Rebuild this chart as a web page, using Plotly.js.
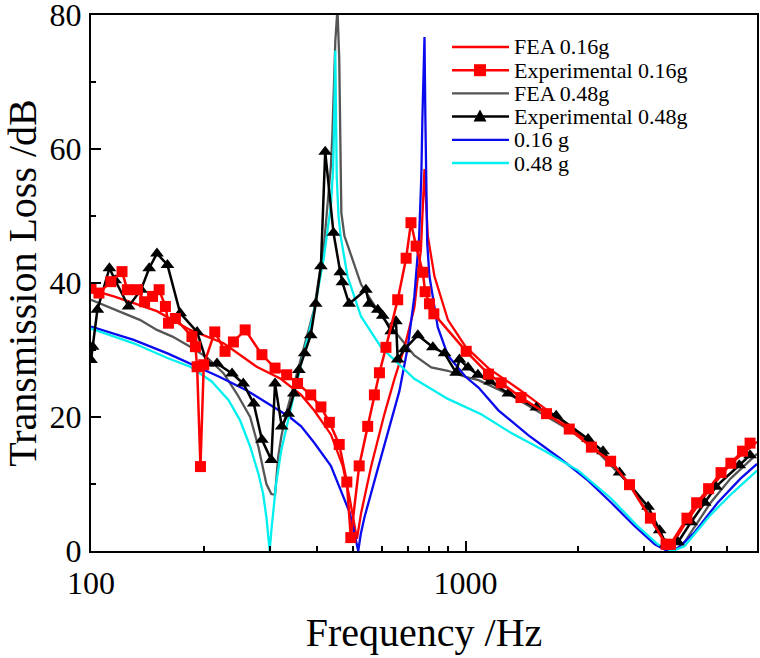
<!DOCTYPE html>
<html>
<head>
<meta charset="utf-8">
<script src="https://cdn.plot.ly/plotly-3.0.1.min.js"></script>
<style>
  html, body { margin: 0; padding: 0; background: #ffffff; }
  #chart { width: 760px; height: 658px; }
</style>
</head>
<body>
<div id="chart"></div>
<script>
// ---- Transmission loss data (frequency in Hz, TL in dB) ----

// FEA, 0.16 g
const feaLightF  = [100, 115, 130, 150, 184, 226, 277, 321, 364, 394, 437, 470, 490, 505, 513, 526, 560, 607, 646, 687, 730, 760, 770, 777, 783, 793, 826, 897, 1000, 1150, 1400, 1650, 1900, 2200, 2450, 2750, 3100, 3400, 3550, 3900, 4500, 5100, 6000];
const feaLightTL = [39, 38, 37, 35.8, 33, 31, 27.5, 25.7, 23.3, 21, 17.4, 12.7, 8, 3.8, 1.8, 5.6, 12.7, 20.4, 25.7, 30.4, 36.3, 45, 51, 57, 53, 47, 41, 34.5, 30.5, 27.3, 24, 21, 18.5, 15.5, 13.3, 9.8, 5, 1.3, 0.8, 4.5, 9.3, 13, 16.3];

// Experimental, 0.16 g
const expLightF  = [100, 105, 113, 121, 125, 133, 139, 146, 152, 158, 161, 168, 186, 190, 192, 196, 200, 214, 228, 240, 258, 286, 310, 333, 356, 386, 411, 433, 460, 482, 494, 520, 548, 571, 589, 613, 659, 694, 715, 738, 769, 780, 801, 823, 1004, 1151, 1245, 1406, 1645, 1892, 2168, 2440, 2740, 3116, 3430, 3524, 3900, 4140, 4456, 4810, 5110, 5490, 5750];
const expLightTL = [39.2, 38.5, 40.2, 41.7, 39, 39, 37.2, 38, 39, 36.5, 34, 34.7, 32, 30.5, 27.5, 12.6, 27.8, 32.7, 29.8, 31.2, 33, 29.3, 27.3, 26.3, 25, 23.3, 21.5, 19.2, 15.9, 10.3, 2, 12.7, 18.6, 23.3, 26.6, 30.4, 37.5, 43.7, 49, 45.5, 41.6, 38.7, 36.9, 35.4, 29.8, 26.4, 25.1, 22.9, 20.5, 18.2, 15.5, 13.4, 9.9, 4.9, 1, 1, 4.9, 7.2, 9.3, 11.7, 13.1, 14.9, 16.1];

// FEA, 0.48 g
const feaHeavyF  = [100, 110, 122, 135, 150, 165, 184, 205, 226, 245, 266, 280, 294, 303, 310, 316, 322, 330, 345, 364, 394, 419, 437, 441, 443, 449, 455, 460, 466, 475, 484, 526, 595, 660, 730, 810, 897, 1000, 1083, 1325, 1632, 1876, 2165, 2710, 3200, 3460, 3610, 3840, 4510, 5100, 6000];
const feaHeavyTL = [37.5, 36.5, 35.5, 34.5, 33, 32, 30.5, 28.8, 26.5, 23.5, 20, 15.5, 10, 8.5, 8.4, 14, 17, 20, 24, 29, 36, 45.7, 57.5, 62, 66, 76, 81, 73.5, 50.5, 47, 45.7, 39.8, 35.1, 32.2, 29.2, 27.4, 26.9, 26, 25.5, 23.2, 20.2, 18.2, 15.8, 10.2, 4.3, 0.7, 0.1, 1.3, 7.2, 10.8, 14.5];

// Experimental, 0.48 g
const expHeavyF  = [100, 101, 104, 112, 116, 126, 136, 143, 150, 160, 173, 192, 204, 217, 238, 255, 272, 286, 303, 310, 323, 336, 348, 359, 372, 386, 398, 411, 422, 444, 463, 469, 489, 542, 553, 583, 601, 633, 652, 659, 687, 746, 818, 879, 944, 963, 1015, 1079, 1163, 1301, 1546, 1746, 2124, 2328, 2577, 3071, 3298, 3430, 3690, 4000, 4350, 4660, 5380, 5750];
const expHeavyTL = [28.5, 30.5, 36, 42.2, 40.4, 36.5, 39, 42.2, 44.4, 42.7, 35.5, 32.7, 28, 28, 26.5, 25, 22, 16.6, 13.6, 25, 18.6, 20.5, 23.5, 27, 29.5, 32.2, 36.9, 42.5, 59.6, 47.5, 41.6, 40.1, 36.9, 39, 36.9, 36, 35.1, 32.8, 34.3, 28.6, 30.1, 32.2, 30.4, 29.5, 26.6, 28.6, 27.4, 26.3, 25.3, 23.5, 21.4, 20.2, 16.7, 14.9, 11.7, 6.6, 3.1, 1, 1.3, 4.3, 7.2, 9.6, 12.8, 14.3];

// Analytical model, 0.16 g
const modelLightF  = [100, 130, 160, 184, 220, 260, 300, 339, 364, 394, 437, 474, 490, 500, 510, 517, 525, 537, 582, 632, 666, 701, 730, 752, 762, 767, 772, 777, 781, 785, 790, 801, 843, 897, 1000, 1083, 1224, 1470, 1800, 2125, 2450, 2830, 3200, 3460, 3690, 4090, 4710, 5420, 6000];
const modelLightTL = [33.5, 31.5, 29.5, 28, 26, 24, 21.8, 20, 18.6, 16.2, 12.7, 8, 5.8, 3.8, 1.8, 0, 2.5, 5, 12.1, 19.2, 23.9, 30.4, 38, 47, 56, 64.6, 71, 76.7, 65, 52.8, 46, 41, 33.4, 29.2, 26, 24.4, 21, 17.3, 13.7, 10.5, 7.2, 3.7, 1, 0, 0.4, 2.8, 7.2, 10.8, 13];

// Analytical model, 0.48 g
const modelHeavyF  = [100, 130, 160, 184, 210, 233, 250, 266, 280, 288, 294, 298, 300, 303, 307, 312, 322, 339, 364, 394, 419, 437, 443, 446, 449, 451, 453, 458, 464, 484, 526, 595, 730, 897, 1101, 1325, 1632, 2000, 2450, 2880, 3260, 3560, 3840, 4510, 5100, 6000];
const modelHeavyTL = [33.2, 31, 28.8, 27.5, 25.3, 22.5, 19.5, 15.6, 11.5, 8.6, 5, 2, 0, 3, 6.5, 10, 15, 20.4, 28, 35.7, 44, 51.6, 57, 64.6, 74.7, 65, 55.8, 50, 47, 41, 35, 30.4, 25.7, 22.7, 20.4, 17.6, 14.9, 12, 7.8, 3.7, 1, 0, 0.7, 5.4, 8.4, 12];

// Legend / series labels, in legend order
const seriesNames = ['FEA 0.16g', 'Experimental 0.16g', 'FEA 0.48g', 'Experimental 0.48g', '0.16 g', '0.48 g'];

// Axis ticks
const xMajorTicks = [100, 1000];
const xMajorText  = ['100', '1000'];
const xMinorTicks = [200, 300, 400, 500, 600, 700, 800, 900, 2000, 3000, 4000, 5000];
const yMajorTicks = [0, 20, 40, 60, 80];
const yMinorTicks = [10, 30, 50, 70];

// ---- Styling ----
const FONT = 'Liberation Serif, Times New Roman, serif';
const W = 760, H = 658;
const M = { l: 91, r: 3, t: 15, b: 107 };
const PW = W - M.l - M.r, PH = H - M.t - M.b;

const styles = [
  { color: '#ff0000', width: 2.3, marker: null },
  { color: '#ff0000', width: 2.5, marker: 'square' },
  { color: '#555555', width: 2.3, marker: null },
  { color: '#000000', width: 2.5, marker: 'triangle-up' },
  { color: '#0a0aee', width: 2.3, marker: null },
  { color: '#00f0f0', width: 2.3, marker: null }
];
const seriesData = [
  [feaLightF, feaLightTL],
  [expLightF, expLightTL],
  [feaHeavyF, feaHeavyTL],
  [expHeavyF, expHeavyTL],
  [modelLightF, modelLightTL],
  [modelHeavyF, modelHeavyTL]
];

function makeTrace(i) {
  const s = styles[i];
  const t = {
    type: 'scatter',
    x: seriesData[i][0],
    y: seriesData[i][1],
    name: seriesNames[i],
    mode: s.marker ? 'lines+markers' : 'lines',
    line: { color: s.color, width: s.width },
    showlegend: false,
    cliponaxis: true
  };
  if (s.marker) {
    t.marker = { symbol: s.marker, size: s.marker === 'square' ? 11 : 12, color: s.color, line: { width: 0 } };
  }
  return t;
}

// drawing order: model and FEA curves underneath, experiments on top
const drawOrder = [2, 0, 4, 5, 3, 1];
const traces = drawOrder.map(makeTrace);

// ---- Hand-placed legend (pixel positions converted to paper units) ----
const px = v => (v - M.l) / PW;
const py = v => (M.t + PH - v) / PH;
const legendRowY = [47, 70.2, 93.4, 116.6, 139.8, 163];
const legendLineX0 = 452, legendLineX1 = 509, legendTextX = 512, legendMarkX = 480;

const shapes = [];
const annotations = [];
seriesNames.forEach((name, i) => {
  const s = styles[i];
  const y = legendRowY[i];
  shapes.push({
    type: 'line', xref: 'paper', yref: 'paper',
    x0: px(legendLineX0), x1: px(legendLineX1), y0: py(y), y1: py(y),
    line: { color: s.color, width: s.width }
  });
  if (s.marker === 'square') {
    shapes.push({
      type: 'rect', xref: 'paper', yref: 'paper',
      x0: px(legendMarkX - 6), x1: px(legendMarkX + 6), y0: py(y + 6), y1: py(y - 6),
      fillcolor: s.color, line: { width: 0 }
    });
  } else if (s.marker === 'triangle-up') {
    const p = `M${px(legendMarkX - 6.5)},${py(y + 5)} L${px(legendMarkX + 6.5)},${py(y + 5)} L${px(legendMarkX)},${py(y - 7)} Z`;
    shapes.push({
      type: 'path', xref: 'paper', yref: 'paper', path: p,
      fillcolor: s.color, line: { width: 0 }
    });
  }
  annotations.push({
    xref: 'paper', yref: 'paper', x: px(legendTextX), y: py(y),
    xanchor: 'left', yanchor: 'middle', showarrow: false,
    text: name, font: { family: FONT, size: 22, color: '#000' }
  });
});

const axisCommon = {
  showline: true, linecolor: '#000', linewidth: 2, mirror: true,
  showgrid: false, zeroline: false,
  ticks: 'inside', ticklen: 10, tickwidth: 2, tickcolor: '#000',
  tickfont: { family: FONT, size: 32, color: '#000' },
  ticklabeloverflow: 'allow',
  automargin: false
};

const layout = {
  width: W, height: H,
  margin: M,
  paper_bgcolor: '#ffffff', plot_bgcolor: '#ffffff',
  showlegend: false,
  font: { family: FONT, color: '#000' },
  xaxis: Object.assign({}, axisCommon, {
    type: 'log',
    range: [2, Math.log10(6000)],
    tickmode: 'array', tickvals: xMajorTicks, ticktext: xMajorText,
    ticklabelstandoff: 3,
    minor: { tickmode: 'array', tickvals: xMinorTicks, ticks: 'inside', ticklen: 5, tickwidth: 2, tickcolor: '#000', showgrid: false },
    title: { text: 'Frequency /Hz', font: { family: FONT, size: 40, color: '#000' }, standoff: 18 }
  }),
  yaxis: Object.assign({}, axisCommon, {
    range: [0, 80],
    tickmode: 'array', tickvals: yMajorTicks,
    ticklabelstandoff: 1,
    minor: { tickmode: 'array', tickvals: yMinorTicks, ticks: 'inside', ticklen: 5, tickwidth: 2, tickcolor: '#000', showgrid: false },
    title: { text: 'Transmission Loss /dB', font: { family: FONT, size: 40, color: '#000' }, standoff: 10 }
  }),
  shapes: shapes,
  annotations: annotations
};

Plotly.newPlot('chart', traces, layout, { displayModeBar: false, staticPlot: true });
</script>
</body>
</html>
